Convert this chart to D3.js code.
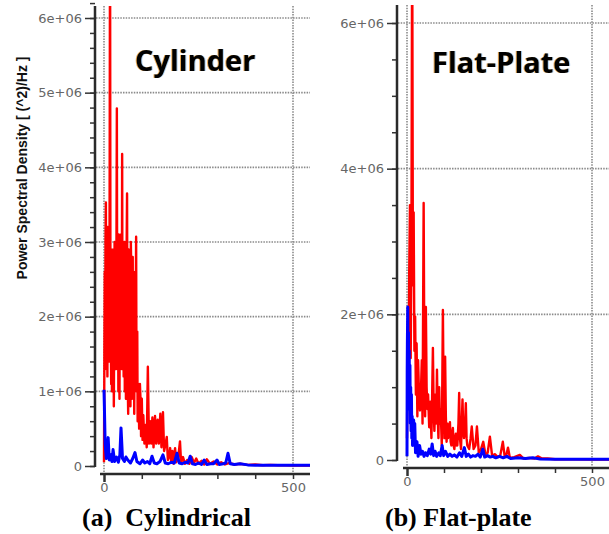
<!DOCTYPE html>
<html><head><meta charset="utf-8">
<script src="https://cdn.jsdelivr.net/npm/d3@7"></script>
<style>body{margin:0;background:#fff}svg{display:block}</style>
</head><body>
<script>
// ---------- DATA (PSD values in units of 1e6) ----------
const yTickValues = [0,1,2,3,4,5,6];
const yTickLabels = ["0","1e+06","2e+06","3e+06","4e+06","5e+06","6e+06"];
const yTickValuesFlat = [0,2,4,6];
const yTickLabelsFlat = ["0","2e+06","4e+06","6e+06"];
const xTickValues = [0,100,200,300,400,500];
const xTickLabels = {0:"0",500:"500"};

const cylFreqRed = [0,1,2,3,4,5,6,7,9,10,11,13,14,15,16,17,19,20,21,22,24,25,26,28,29,31,32,34,35,37,38,39,41,42,44,45,47,48,49,51,52,54,55,57,58,60,61,62,64,65,67,68,70,71,73,74,76,77,79,80,82,83,85,86,88,89,91,93,95,97,98,100,102,104,107,110,113,116,119,122,125,128,131,135,138,142,145,149,152,156,159,163,166,169,172,175,178,181,184,188,191,196,201,204,209,214,220,226,232,238,244,250,258,265,272,280,290,300,310,320,330,345,360,380,400,420,440,460,480,500,560];
const cylRed     = [0.05,1.5,2.6,1.3,3.0,3.53,1.6,2.8,1.2,3.2,1.9,2.9,1.4,4.0,7.5,2.6,1.1,2.9,1.0,2.7,1.6,2.9,0.8,3.0,1.4,2.7,1.3,4.79,1.8,2.9,1.0,3.1,0.9,2.6,1.4,3.1,1.3,4.18,1.5,2.8,1.2,3.0,1.0,2.9,0.9,3.0,3.65,1.4,0.7,2.9,1.2,2.7,0.8,3.0,2.3,0.9,2.8,1.1,2.2,0.7,2.6,1.2,3.07,1.0,1.8,0.6,1.1,0.5,1.1,0.84,0.4,0.9,0.35,0.68,0.3,0.55,0.25,1.33,0.3,0.6,0.3,0.65,0.25,0.67,0.3,0.62,0.3,0.7,0.25,0.72,0.2,0.3,0.39,0.08,0.12,0.24,0.05,0.2,0.03,0.24,0.05,0.1,0.33,0.04,0.12,0.03,0.08,0.03,0.12,0.04,0.1,0.03,0.07,0.02,0.09,0.03,0.06,0.02,0.05,0.02,0.04,0.02,0.03,0.015,0.02,0.01,0.015,0.01,0.01,0.005,0.005];

const cylFreqBlue = [0,1,3,6,9,11,14,18,21,24,28,33,38,42,45,49,54,58,63,70,76,82,87,95,102,108,115,121,127,133,140,148,156,162,170,178,186,193,199,207,215,222,228,234,242,250,258,265,272,282,290,299,305,315,322,328,334,345,360,380,400,450,500,560];
const cylBlue     = [1.02,0.8,0.3,0.1,0.2,0.38,0.08,0.15,0.06,0.22,0.06,0.12,0.05,0.15,0.51,0.1,0.06,0.12,0.08,0.04,0.1,0.18,0.06,0.03,0.08,0.04,0.06,0.03,0.13,0.04,0.03,0.06,0.15,0.04,0.03,0.05,0.04,0.17,0.04,0.03,0.05,0.04,0.13,0.03,0.02,0.04,0.02,0.08,0.02,0.03,0.03,0.08,0.02,0.03,0.04,0.17,0.03,0.02,0.03,0.015,0.01,0.01,0.01,0.01];

const flatFreqRed = [0,2,4,6,8,10,12,14,16,18,20,22,24,26,28,30,32,35,38,40,42,45,47,49,51,53,55,57,60,63,66,68,70,72,74,77,79,81,83,85,87,89,91,94,97,99,101,103,105,107,109,111,114,116,118,120,122,124,126,128,130,132,134,136,139,141,143,146,148,150,152,154,157,159,161,163,168,172,175,180,185,189,194,200,206,212,218,224,230,238,245,252,259,264,269,273,278,290,305,315,330,345,354,365,380,400,450,500,560];
const flatRed     = [0.3,1.8,1.0,2.6,3.5,1.4,3.0,7.5,2.4,3.4,1.5,1.97,0.9,1.6,0.6,1.37,1.0,0.68,1.0,1.37,0.5,3.53,1.2,0.6,2.1,1.0,0.7,0.9,0.45,0.8,0.3,0.9,1.54,0.7,0.4,0.9,0.5,1.24,0.6,0.3,1.0,0.5,0.7,0.2,2.06,0.8,0.3,1.42,0.6,0.25,0.5,0.3,0.45,0.52,0.25,0.2,0.35,0.44,0.2,0.15,0.3,0.36,0.2,0.2,0.5,0.92,0.3,0.15,0.5,0.83,0.4,0.3,0.5,0.78,0.3,0.2,0.15,0.3,0.46,0.15,0.2,0.46,0.1,0.15,0.25,0.08,0.1,0.32,0.06,0.08,0.04,0.06,0.25,0.05,0.08,0.17,0.03,0.04,0.07,0.02,0.03,0.02,0.05,0.02,0.02,0.01,0.01,0.005,0.005];

const flatFreqBlue = [0,0.5,1,2,3,4,5,6,7,8,9,10,11,12,13,14,15,16,18,20,21,23,24,27,30,34,38,42,46,50,55,60,64,68,72,76,80,86,90,95,99,104,110,116,122,128,135,142,148,155,160,166,172,178,185,192,198,205,210,218,225,232,240,250,260,270,280,300,320,340,360,400,450,500,560];
const flatBlue     = [0.05,1.2,1.6,2.1,1.4,1.75,0.9,1.5,0.7,1.3,0.5,1.0,0.4,0.9,0.3,0.6,0.2,0.5,0.55,0.2,0.5,0.1,0.15,0.25,0.05,0.2,0.08,0.12,0.05,0.1,0.06,0.15,0.08,0.22,0.06,0.12,0.05,0.1,0.06,0.2,0.06,0.12,0.05,0.08,0.05,0.07,0.04,0.1,0.05,0.17,0.05,0.08,0.04,0.06,0.05,0.08,0.04,0.15,0.04,0.06,0.04,0.05,0.03,0.05,0.03,0.05,0.02,0.03,0.02,0.03,0.015,0.01,0.01,0.01,0.01];

// ---------- DRAW ----------
const W = 609, H = 534;
const svg = d3.select("body").append("svg").attr("width", W).attr("height", H);
const zip = (a,b) => a.map((v,i)=>[v,b[i]]);

function panel(cfg){
  const g = svg.append("g");
  const x = d3.scaleLinear().domain([0,500]).range(cfg.xr);
  const y = d3.scaleLinear().domain([0,6]).range(cfg.yr);
  const clipId = "clip"+cfg.id;
  svg.append("clipPath").attr("id", clipId).append("rect")
    .attr("x", cfg.clip[0]).attr("y", cfg.clip[1]).attr("width", cfg.clip[2]-cfg.clip[0]).attr("height", cfg.clip[3]-cfg.clip[1]);

  // grid
  const grid = g.append("g").attr("stroke", "#8a8a8a").attr("stroke-width", 1.6).attr("stroke-dasharray", "1.5,1.2");
  cfg.gridY.forEach(v => grid.append("line").attr("x1", cfg.axisX+1).attr("x2", cfg.clip[2]).attr("y1", y(v)).attr("y2", y(v)));
  [0,500].forEach(v => grid.append("line").attr("x1", x(v)).attr("x2", x(v)).attr("y1", cfg.clip[1]).attr("y2", cfg.axisY-2));

  // series
  const line = d3.line().x(d => x(d[0])).y(d => y(d[1]));
  const sg = g.append("g").attr("clip-path", `url(#${clipId})`).attr("fill","none").attr("stroke-linejoin","round");
  sg.append("path").datum(zip(cfg.fr, cfg.r)).attr("d", line).attr("stroke", "#ff0000").attr("stroke-width", 2.4);
  sg.append("path").datum(zip(cfg.fb, cfg.b)).attr("d", line).attr("stroke", "#0000ff").attr("stroke-width", 3);

  // y axis (major + minor ticks)
  const yMinor = d3.axisLeft(y).tickValues(cfg.minor).tickSize(5).tickFormat("");
  const ya = g.append("g").attr("transform", `translate(${cfg.axisX},0)`).call(yMinor);
  ya.select(".domain").remove();
  ya.selectAll("line").attr("stroke", "#333").attr("stroke-width", 1.5);
  const yMajor = d3.axisLeft(y).tickValues(cfg.yTicks).tickSize(10).tickPadding(3)
    .tickFormat(v => cfg.yLabels[cfg.yTicks.indexOf(v)]);
  const yb = g.append("g").attr("transform", `translate(${cfg.axisX},0)`).call(yMajor);
  yb.select(".domain").remove();
  yb.selectAll("line").attr("stroke", "#333").attr("stroke-width", 1.5);
  yb.selectAll("text").attr("font-family", "DejaVu Sans").attr("font-size", 13).attr("fill", "#666");
  g.append("line").attr("x1", cfg.axisX).attr("x2", cfg.axisX).attr("y1", cfg.clip[1]).attr("y2", cfg.yAxisEnd)
    .attr("stroke", "#2a2a2a").attr("stroke-width", 2.5);

  // x axis
  const xa = g.append("g").attr("transform", `translate(0,${cfg.axisY})`)
    .call(d3.axisBottom(x).tickValues(xTickValues).tickSize(5).tickPadding(4).tickFormat(v => xTickLabels[v] || ""));
  xa.select(".domain").remove();
  xa.selectAll("line").attr("stroke", "#333").attr("stroke-width", 1.5);
  xa.selectAll(".tick").filter(v => v === 0).select("line").attr("y2", 8).attr("stroke-width", 2.5);
  xa.selectAll("text").attr("font-family", "DejaVu Sans").attr("font-size", 13).attr("fill", "#666");
  g.append("line").attr("x1", cfg.xAxisStart).attr("x2", cfg.clip[2]).attr("y1", cfg.axisY).attr("y2", cfg.axisY)
    .attr("stroke", "#2a2a2a").attr("stroke-width", 2.5);

  // title with slight coloured fringe
  g.append("text").attr("x", cfg.title[1]).attr("y", cfg.title[2])
    .attr("font-family", "Open Sans").attr("font-weight", 700).attr("font-size", 29).attr("fill", "#000")
    .style("filter", "drop-shadow(-1px 0px 0px rgba(232,160,64,0.9)) drop-shadow(1px 0px 0px rgba(90,160,224,0.5))")
    .text(cfg.title[0]);

  // caption
  svg.append("text").attr("x", cfg.caption[1]).attr("y", 526).attr("font-family", "Liberation Serif")
    .attr("font-weight", 700).attr("font-size", 26).attr("fill", "#000").attr("xml:space","preserve").text(cfg.caption[0]);
}

panel({id:"L", xr:[104,293], yr:[466,18], clip:[96,6,310,471], axisX:95, axisY:474, yAxisEnd:467, xAxisStart:100,
  gridY:[1,2,3,4,5,6], yTicks:yTickValues, yLabels:yTickLabels,
  minor:d3.range(0,6.21,0.2).map(v=>+v.toFixed(1)),
  fr:cylFreqRed, r:cylRed, fb:cylFreqBlue, b:cylBlue,
  title:["Cylinder",135,71], caption:["(a)  Cylindrical",82]});

panel({id:"R", xr:[407,592], yr:[460,23], clip:[398,5,609,464], axisX:397, axisY:468, yAxisEnd:461, xAxisStart:403,
  gridY:[2,4,6], yTicks:yTickValuesFlat, yLabels:yTickLabelsFlat,
  minor:d3.range(0,6.3,0.5),
  fr:flatFreqRed, r:flatRed, fb:flatFreqBlue, b:flatBlue,
  title:["Flat-Plate",432,73], caption:["(b) Flat-plate",385]});

// y-axis title (left panel)
svg.append("text").attr("transform", "translate(27,168) rotate(-90)").attr("text-anchor", "middle")
  .attr("font-family", "Liberation Sans").attr("font-weight", 700).attr("font-size", 14).attr("fill", "#111")
  .text("Power Spectral Density [ (^2)/Hz ]");
</script>
</body></html>
